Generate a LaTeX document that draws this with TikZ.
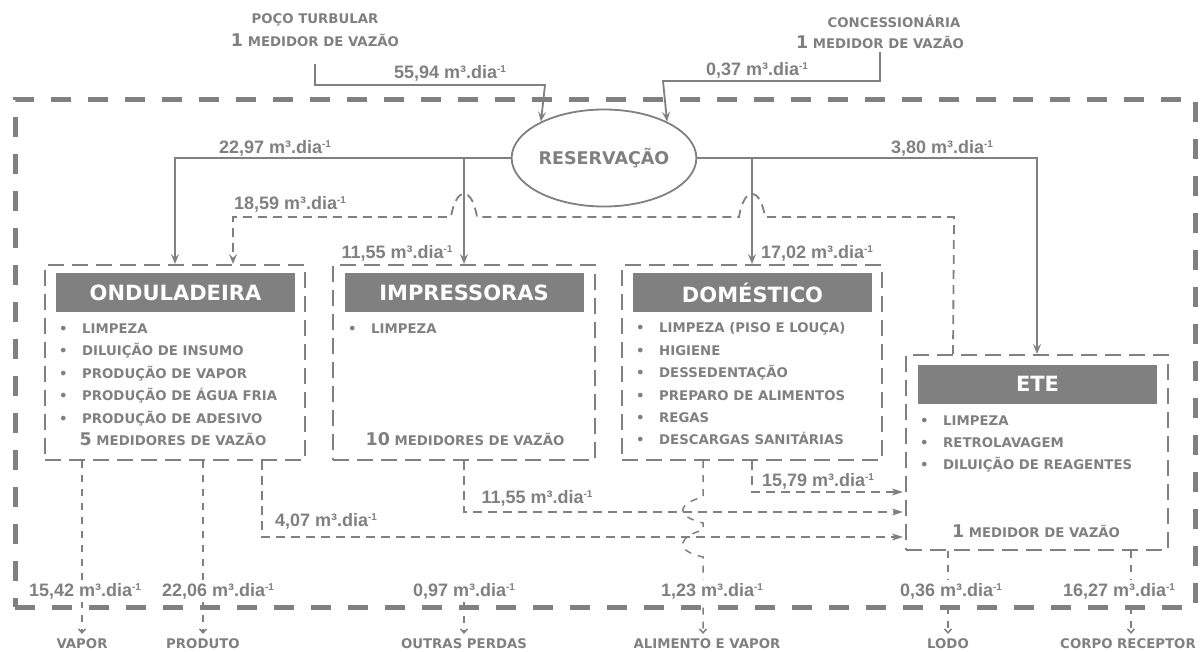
\documentclass[tikz,border=0pt]{standalone}
\usepackage{fontspec}
\setmainfont{Liberation Sans}
\newfontfamily\heavyfont{DejaVu Sans}
\usetikzlibrary{arrows.meta,calc,shapes.geometric}

\definecolor{gc}{HTML}{808080}

% flow value with unit
\newcommand\qv[1]{#1 m³.dia\raisebox{5.6pt}{\fontsize{10}{10}\selectfont -1}}
% small-caps like labels
\newcommand\scapfont{\heavyfont\bfseries\fontsize{13.3}{16}\selectfont}
\newcommand\bignum[1]{{\fontsize{17.5}{18}\selectfont #1}}
\newcommand\bul{\makebox[23pt][l]{•}}

\tikzset{
  val/.style={font=\bfseries\fontsize{18}{20}\selectfont, text=gc, inner sep=0pt, anchor=base},
  valbg/.style={val, fill=white, inner xsep=2pt, inner ysep=3pt},
  sc/.style={font=\scapfont, text=gc, inner sep=0pt, anchor=base},
  itemtxt/.style={sc, anchor=base west},
  unit/.style={draw=gc, line width=2pt, dash pattern=on 16pt off 8pt,
    minimum height=195pt, inner sep=0pt},
  titlebar/.style={fill=gc, text=white, font=\heavyfont\bfseries\fontsize{21}{22}\selectfont,
    minimum width=239pt, minimum height=39pt, inner sep=0pt},
  solidflow/.style={draw=gc, line width=1.8pt, -{Stealth[length=10pt,width=8pt,inset=4pt]}},
  dashflow/.style={draw=gc, line width=1.8pt, dash pattern=on 9pt off 6pt,
    -{Stealth[length=10pt,width=8pt,inset=4pt]}},
  eteflow/.style={draw=gc, line width=1.8pt, dash pattern=on 9pt off 6pt,
    -{Stealth[length=11pt,width=7pt,inset=3pt]}},
  outflow/.style={draw=gc, line width=1.5pt, dash pattern=on 7pt off 7pt,
    -{Straight Barb[length=4pt,width=7pt]}, shorten >=4pt},
  boundary/.style={draw=gc, line width=5pt, dash pattern=on 20pt off 17pt,
    minimum width=1180pt, minimum height=508pt, inner sep=0pt},
}

\begin{document}
\begin{tikzpicture}[x=1pt,y=-1pt]
\useasboundingbox (0,0) rectangle (1202,651);

% plant boundary
\node[boundary] (plant) at (605,353) {};

% water sources
\node[sc] (poco) at (315,23) {POÇO TURBULAR};
\node[sc] (pocom) at (315,46) {\bignum{1} MEDIDOR DE VAZÃO};
\node[sc] (conc) at (894,27) {CONCESSIONÁRIA};
\node[sc] (concm) at (880,48) {\bignum{1} MEDIDOR DE VAZÃO};

% storage
\node[ellipse, draw=gc, line width=1.8pt, minimum width=168pt, minimum height=97pt,
  inner sep=0pt, text=gc, font=\heavyfont\bfseries\fontsize{17.5}{18}\selectfont]
  (res) at (604,158) {RESERVAÇÃO};

% consumers
\node[unit, minimum width=260pt] (ond) at (175,362.5) {};
\node[unit, minimum width=262pt] (imp) at (464,362.5) {};
\node[unit, minimum width=260pt] (dom) at (752,362.5) {};
\node[unit, minimum width=262pt] (ete) at (1037,452.5) {};

\node[titlebar] (ondT) at (175.5,292.5) {ONDULADEIRA};
\node[titlebar] (impT) at (464,292.5) {IMPRESSORAS};
\node[titlebar] (domT) at (752.5,292.5) {DOMÉSTICO};
\node[titlebar] (eteT) at (1037.5,384) {ETE};

\foreach \t [count=\i] in {LIMPEZA, DILUIÇÃO DE INSUMO, PRODUÇÃO DE VAPOR,
    PRODUÇÃO DE ÁGUA FRIA, PRODUÇÃO DE ADESIVO}
  \node[itemtxt] (ondi\i) at (59,310.5+22.5*\i) {\bul\t};
\node[sc] (ondm) at (173,445) {\bignum{5} MEDIDORES DE VAZÃO};

\node[itemtxt] (impi1) at (348,333) {\bul LIMPEZA};
\node[sc] (impm) at (465,445) {\bignum{10} MEDIDORES DE VAZÃO};

\foreach \t [count=\i] in {LIMPEZA (PISO E LOUÇA), HIGIENE, DESSEDENTAÇÃO,
    PREPARO DE ALIMENTOS, REGAS, DESCARGAS SANITÁRIAS}
  \node[itemtxt] (domi\i) at (636,310.5+22.4*\i) {\bul\t};

\foreach \t [count=\i] in {LIMPEZA, RETROLAVAGEM, DILUIÇÃO DE REAGENTES}
  \node[itemtxt] (etei\i) at (920,403+22*\i) {\bul\t};
\node[sc] (etem) at (1036,537) {\bignum{1} MEDIDOR DE VAZÃO};

% supply to storage
\coordinate (pj) at (545,85);
\coordinate (cj) at (663,81);
\draw[solidflow, shorten <=18pt] (pocom.base) |- (pj) -- (res.150);
\draw[solidflow, shorten <=4pt] (concm.base) |- (cj) -- (res.30);
\node[val] (q5594) at (450,78) {\qv{55,94}};
\node[val] (q037) at (757,75) {\qv{0,37}};

% distribution
\draw[solidflow] (res.west) -| (ond.north);
\draw[solidflow] (res.east) -| (ete.north);
\draw[solidflow] (imp.north |- res.west) -- (imp.north);
\draw[solidflow] (dom.north |- res.east) -- (dom.north);
\node[val] (q2297) at (275,153.5) {\qv{22,97}};
\node[val] (q380) at (942,153.5) {\qv{3,80}};
\node[val] (q1155a) at (397,258.5) {\qv{11,55}};
\node[val] (q1702) at (817,258.5) {\qv{17,02}};

% reuse from ETE to ONDULADEIRA, hopping over the supply lines
\draw[dashflow] ($(ete.north west)+(48,0)$) -- (954,217) -- (765,217)
  .. controls (760,186) and (744,186) .. (739,217) -- (477,217)
  .. controls (472,186) and (456,186) .. (451,217) -- (233,217)
  -- ($(ond.north)+(58,0)$);
\node[val] (q1859) at (290,209.5) {\qv{18,59}};

% effluents to ETE
\coordinate (eIn1) at (903,492);
\coordinate (eIn2) at (903,512);
\coordinate (eIn3) at (903,537);
\draw[eteflow] (dom.south) |- (eIn1);
\draw[eteflow] (imp.south) |- (eIn2);
\draw[eteflow] ($(ond.south)+(87,0)$) |- (eIn3);
\node[val] (q1579) at (818,486.5) {\qv{15,79}};
\node[val] (q1155b) at (537,503.5) {\qv{11,55}};
\node[val] (q407) at (326,526.5) {\qv{4,07}};

% outputs
\node[sc] (vapor) at (82,648) {VAPOR};
\node[sc] (produto) at (203,648) {PRODUTO};
\node[sc] (outras) at (464,648) {OUTRAS PERDAS};
\node[sc] (alim) at (707,648) {ALIMENTO E VAPOR};
\node[sc] (lodo) at (948,648) {LODO};
\node[sc] (corpo) at (1128,648) {CORPO RECEPTOR};

\draw[outflow] (vapor.north |- ond.south) -- (vapor.north);
\draw[outflow] (produto.north |- ond.south) -- (produto.north);
\draw[outflow] (lodo.north |- ete.south) -- (lodo.north);
\draw[outflow] ([xshift=3pt]corpo.north |- ete.south) -- ([xshift=3pt]corpo.north);
\draw[outflow] ($(dom.south)+(-49,0)$) -- (703,497)
  .. controls (680,503) and (672,515) .. (703,523) -- (703,530)
  .. controls (680,536) and (672,550) .. (703,557) -- ([xshift=-4pt]alim.north);

\node[valbg] (q1542) at (85,596.5) {\qv{15,42}};
\node[valbg] (q2206) at (218,596.5) {\qv{22,06}};
\node[valbg] (q097) at (464,596.5) {\qv{0,97}};
\node[valbg] (q123) at (712,596.5) {\qv{1,23}};
\node[valbg] (q036) at (951,596.5) {\qv{0,36}};
\node[valbg] (q1627) at (1119,596.5) {\qv{16,27}};
\draw[outflow] (q097.south) -- (outras.north);
\end{tikzpicture}
\end{document}
